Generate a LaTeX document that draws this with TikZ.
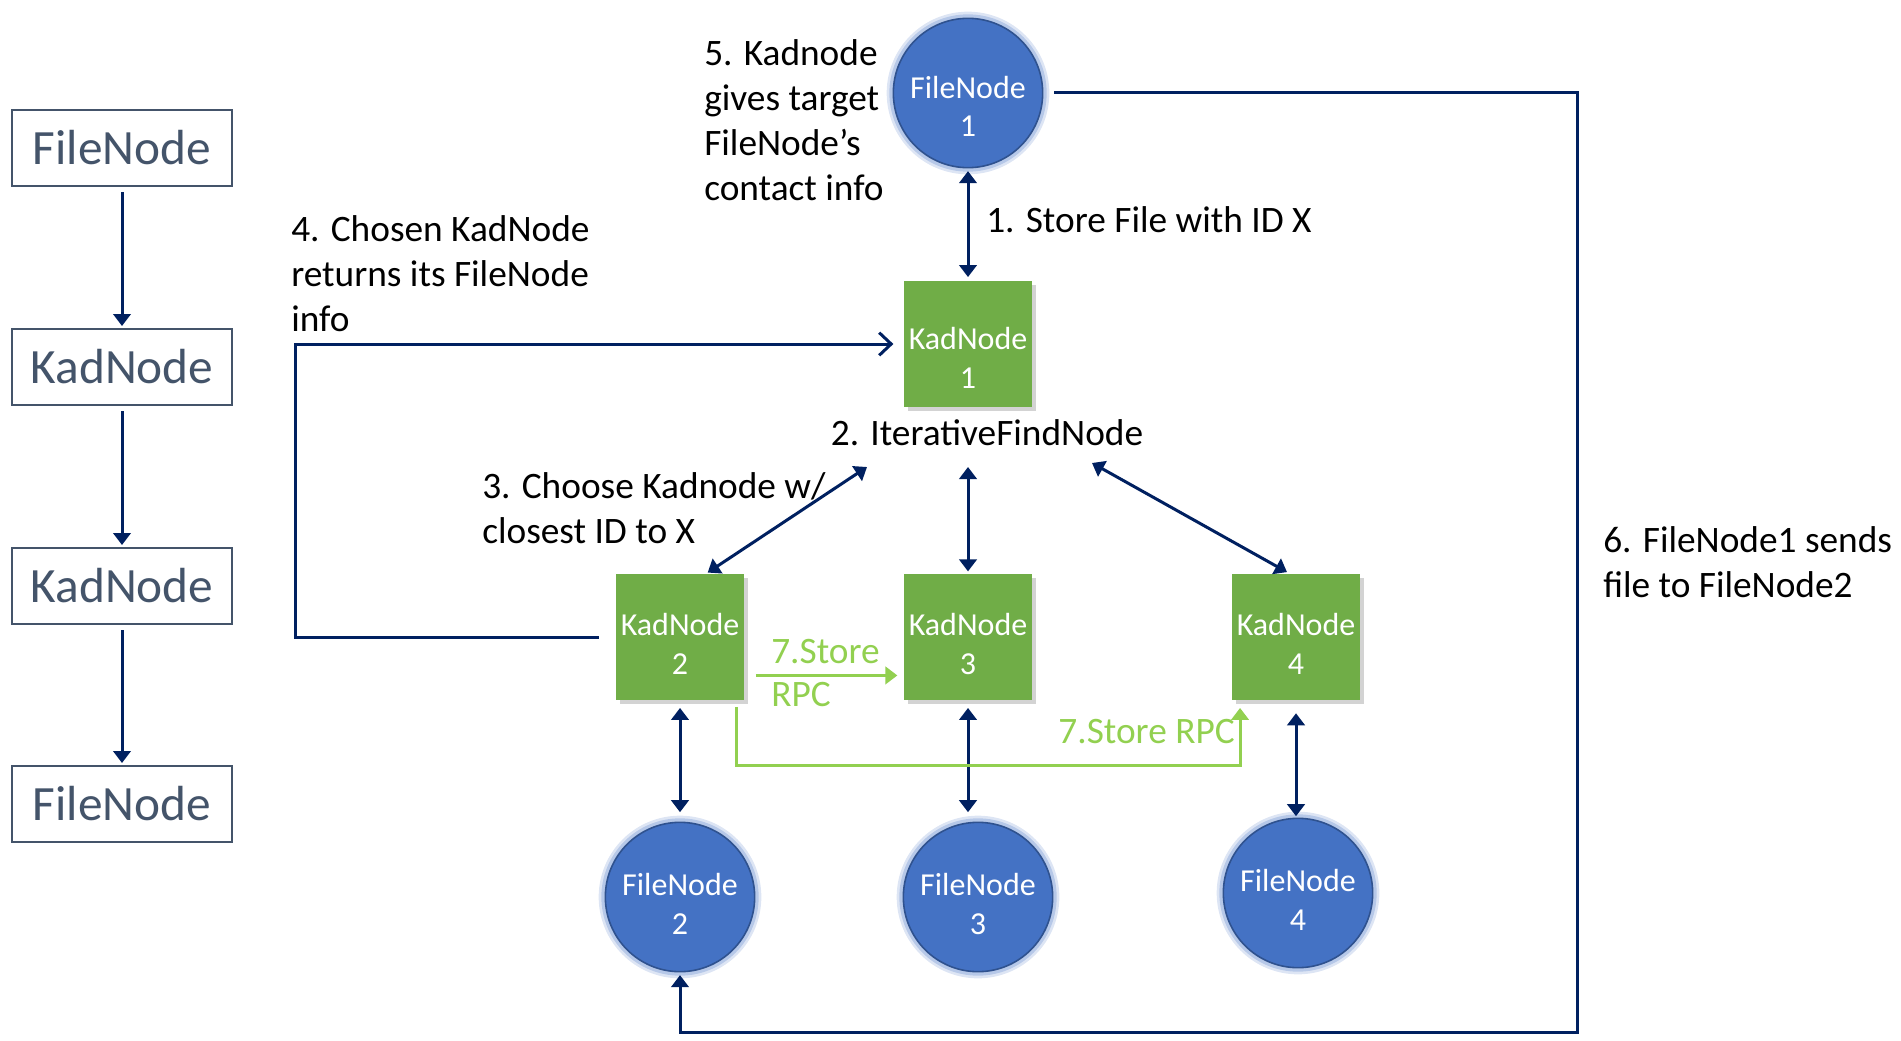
\documentclass[tikz,border=0pt]{standalone}
\usepackage{fontspec}
\setmainfont{Carlito}
\usetikzlibrary{arrows.meta,shadows,calc}
\definecolor{navy}{HTML}{002060}
\definecolor{slate}{HTML}{44546A}
\definecolor{kadgreen}{HTML}{70AD47}
\definecolor{rpcgreen}{HTML}{92D050}
\definecolor{fileblue}{HTML}{4472C4}
\definecolor{fileedge}{HTML}{2F528F}
\definecolor{glow}{HTML}{8FAADC}
\tikzset{
  >={Triangle[length=9pt,width=13pt]},
}
\tikzstyle{link}=[navy,line width=2.25pt]
\tikzstyle{rpc}=[rpcgreen,line width=2.25pt]
\tikzstyle{legend}=[draw=slate,line width=1.5pt,minimum width=165pt,minimum height=57pt,text=slate,font=\fontsize{37}{44}\selectfont]
\tikzstyle{kad}=[fill=kadgreen,minimum width=95pt,minimum height=94pt,text=white,align=center,font=\fontsize{24}{29}\selectfont,text height=56pt,drop shadow={opacity=.35,shadow xshift=3pt,shadow yshift=-3pt}]
\tikzstyle{file}=[circle,fill=fileblue,draw=fileedge,line width=1.2pt,inner sep=0pt,minimum size=112pt,text=white,align=center,font=\fontsize{24}{29}\selectfont,text height=56pt,preaction={draw=glow,line width=10pt,opacity=.3},preaction={draw=glow,line width=6pt,opacity=.5}]
\tikzstyle{low}=[text height=66pt]
\tikzstyle{note}=[align=left,inner sep=0pt,font=\fontsize{28}{33.75}\selectfont]

\begin{document}
\begin{tikzpicture}[x=0.75pt,y=-0.75pt]
  \useasboundingbox (0,0) rectangle (1901,1041);
  % legend column
  \node[legend] (leg1) at (122,148) {FileNode};
  \node[legend] (leg2) at (122,367) {KadNode};
  \node[legend] (leg3) at (122,586) {KadNode};
  \node[legend] (leg4) at (122,804) {FileNode};
  \foreach \a/\b in {leg1/leg2,leg2/leg3,leg3/leg4}
    \draw[link,->,shorten <=4pt,shorten >=1.5pt] (\a) -- (\b);
  % nodes
  \node[file,low] (fn1) at (968,93) {FileNode\\1};
  \node[kad,low] (kad1) at (968,344) {KadNode\\1};
  \node[kad] (kad2) at (680,637) {KadNode\\2};
  \node[kad] (kad3) at (968,637) {KadNode\\3};
  \node[kad] (kad4) at (1296,637) {KadNode\\4};
  \foreach \i/\x/\y in {2/680/897,3/978/897,4/1298/893}
    \node[file] (fn\i) at (\x,\y) {FileNode\\\i};
  % labels
  \node[note,anchor=west] (lbl5) at (704,120) {5. Kadnode\\gives target\\FileNode’s\\contact info};
  \node[note,anchor=west] (lbl1) at (986,220) {1. Store File with ID X};
  \node[note,anchor=west] (lbl4) at (291,274) {4. Chosen KadNode\\returns its FileNode\\info};
  \node[note] (lbl2) at (987,433) {2. IterativeFindNode};
  \node[note,anchor=west] (lbl3) at (482,508) {3. Choose Kadnode w/\\closest ID to X};
  \node[note,anchor=west] (lbl6) at (1603,562) {6. FileNode1 sends\\file to FileNode2};
  \node[note,anchor=west,text=rpcgreen,font=\fontsize{28}{32}\selectfont] (rpc1) at (771,673) {7.Store\\RPC};
  \node[note,anchor=east,text=rpcgreen] (rpc2) at (1235,732) {7.Store RPC};
  \coordinate (t2) at (867,467);
  \coordinate (t3) at (968,467);
  \coordinate (t4) at (1092,463);
  \coordinate (c4) at (295,344);
  \coordinate (c6) at (1577,1032);
  % connectors
  \draw[link,<->,shorten <=2pt,shorten >=3pt] (fn1) -- (kad1);
  \draw[link,<->,shorten >=2pt] (t2) -- (kad2.68);
  \draw[link,<->,shorten >=2pt] (t3) -- (kad3.north);
  \draw[link,<->,shorten >=3pt] (t4) -- (kad4.95);
  \draw[link,<->,shorten <=6pt,shorten >=7pt] (kad2) -- (fn2);
  \draw[link,<->,shorten <=6pt,shorten >=7pt] (kad3.south) -- (kad3.south |- fn3.north);
  \draw[link,<->,shorten <=10pt,shorten >=1pt] (kad4.south) -- (kad4.south |- fn4.north);
  \draw[link,-{Straight Barb[length=9pt,width=17pt]},shorten <=13pt,shorten >=8pt] (kad2.west) -| (c4) -- (kad1.west);
  \draw[link,->,shorten <=8pt,shorten >=2pt] (fn1.east) -| (c6) -| (fn2.south);
  \draw[rpc,->,shorten <=9pt,shorten >=5pt] (kad2.-31) -- (kad3.211);
  \draw[rpc,->] ($(kad2.south east)+(-7,7)$) -- ++(0,59) -| ($(kad4.south west)+(8,8)$);
\end{tikzpicture}
\end{document}
